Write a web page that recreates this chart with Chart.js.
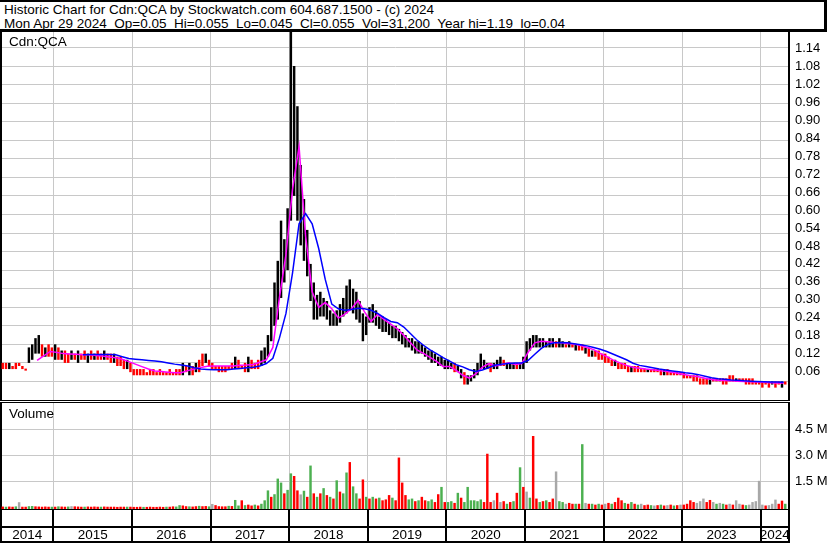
<!DOCTYPE html>
<html>
<head>
<meta charset="utf-8">
<title>Historic Chart for Cdn:QCA</title>
<script src="https://cdn.jsdelivr.net/npm/chart.js@4.4.1/dist/chart.umd.min.js"></script>
<style>
  body { margin: 0; background: #fff; }
  #page { position: relative; width: 830px; height: 543px; overflow: hidden; font-family: 'Liberation Sans', Arial, sans-serif; color: #000; }
  #head { position: absolute; left: 0; top: 0; width: 820px; height: 26px; padding: 1px 0 0 4px; border-top: 2px solid #000; border-right: 3px solid #000; border-bottom: 3px solid #000; font-size: 13.5px; line-height: 14px; white-space: pre; }
  canvas { position: absolute; left: 0; }
  .rule { position: absolute; left: 0; width: 790px; background: #000; }
  .tag { position: absolute; left: 9px; font-size: 13.5px; line-height: 15px; }
</style>
</head>
<body>
<div id="page">
  <div id="head">Historic Chart for Cdn:QCA by Stockwatch.com 604.687.1500 - (c) 2024
Mon Apr 29 2024  Op=0.05  Hi=0.055  Lo=0.045  Cl=0.055  Vol=31,200  Year hi=1.19  lo=0.04</div>
  <canvas id="priceChart" width="830" height="368" style="top:32px"></canvas>
  <div class="rule" style="top:400px;height:1px"></div>
  <div class="rule" style="top:402px;height:1px"></div>
  <canvas id="volChart" width="830" height="106" style="top:403px"></canvas>
  <div class="rule" style="top:509px;height:1px"></div>
  <canvas id="yearChart" width="830" height="33" style="top:510px"></canvas>
  <div class="rule" style="top:541px;height:2px"></div>
  <div class="tag" style="top:34px">Cdn:QCA</div>
  <div class="tag" style="top:406px">Volume</div>
</div>
<script>
// half-month bars from May 2014 to end of April 2024
const periodStart = 2014 + 4 / 12;
const XMIN = 2014.332, XMAX = 2024.36;

const priceHigh = [
  0.12,0.12,0.12,0.11,0.12,0.12,0.11,0.10,0.17,0.18,0.20,0.21,0.18,0.17,0.18,0.17, // 2014
  0.18,0.17,0.16,0.16,0.15,0.16,0.15,0.16,0.15,0.16,0.15,0.16,0.15,0.16,0.15,0.16,0.15,0.15,0.15,0.14,0.14,0.13,0.13,0.12, // 2015
  0.10,0.10,0.10,0.10,0.09,0.10,0.10,0.09,0.10,0.09,0.09,0.10,0.09,0.10,0.10,0.12,0.11,0.12,0.11,0.12,0.13,0.15,0.15,0.13, // 2016
  0.12,0.11,0.11,0.11,0.11,0.11,0.12,0.14,0.13,0.11,0.12,0.14,0.13,0.12,0.13,0.16,0.17,0.21,0.30,0.38,0.45,0.58,0.52,0.62, // 2017
  1.19,1.08,0.95,0.76,0.65,0.55,0.44,0.38,0.34,0.35,0.33,0.32,0.29,0.28,0.29,0.31,0.33,0.37,0.39,0.36,0.35,0.32,0.28,0.27, // 2018
  0.30,0.31,0.29,0.27,0.27,0.26,0.25,0.24,0.24,0.23,0.22,0.21,0.20,0.20,0.19,0.19,0.18,0.17,0.16,0.16,0.15,0.14,0.14,0.13, // 2019
  0.13,0.12,0.12,0.11,0.10,0.09,0.08,0.08,0.10,0.12,0.15,0.13,0.12,0.12,0.12,0.13,0.14,0.13,0.12,0.12,0.12,0.12,0.12,0.14, // 2020
  0.19,0.20,0.21,0.21,0.20,0.20,0.19,0.20,0.20,0.19,0.20,0.19,0.18,0.19,0.18,0.18,0.18,0.18,0.17,0.17,0.16,0.16,0.16,0.15, // 2021
  0.15,0.14,0.13,0.13,0.12,0.12,0.12,0.11,0.11,0.11,0.11,0.10,0.10,0.10,0.10,0.10,0.10,0.10,0.10,0.10,0.09,0.09,0.09,0.09, // 2022
  0.09,0.08,0.08,0.08,0.08,0.07,0.07,0.07,0.07,0.07,0.07,0.07,0.07,0.07,0.08,0.08,0.07,0.07,0.07,0.07,0.07,0.07,0.06,0.06, // 2023
  0.06,0.06,0.06,0.06,0.06,0.06,0.06,0.06 // 2024
];
const priceLow = [
  0.10,0.10,0.10,0.10,0.10,0.11,0.10,0.095,0.12,0.13,0.15,0.15,0.14,0.14,0.14,0.14,
  0.13,0.13,0.13,0.12,0.12,0.13,0.13,0.12,0.13,0.13,0.12,0.13,0.13,0.13,0.13,0.13,0.13,0.12,0.12,0.11,0.11,0.10,0.10,0.09,
  0.08,0.08,0.08,0.08,0.08,0.08,0.08,0.08,0.08,0.08,0.08,0.08,0.08,0.08,0.08,0.08,0.09,0.08,0.08,0.09,0.09,0.11,0.12,0.11,
  0.10,0.10,0.09,0.09,0.09,0.10,0.10,0.10,0.10,0.10,0.09,0.09,0.10,0.10,0.10,0.11,0.12,0.14,0.19,0.24,0.26,0.33,0.38,0.42,
  0.58,0.66,0.58,0.50,0.45,0.40,0.32,0.26,0.26,0.27,0.27,0.26,0.24,0.24,0.24,0.25,0.27,0.28,0.29,0.28,0.26,0.25,0.19,0.21,
  0.25,0.25,0.24,0.23,0.22,0.22,0.21,0.20,0.20,0.19,0.18,0.17,0.17,0.16,0.15,0.15,0.15,0.14,0.13,0.12,0.12,0.11,0.11,0.10,
  0.10,0.10,0.09,0.09,0.07,0.05,0.05,0.06,0.07,0.08,0.10,0.10,0.10,0.09,0.10,0.10,0.11,0.11,0.10,0.10,0.10,0.10,0.10,0.10,
  0.12,0.16,0.17,0.17,0.17,0.17,0.17,0.17,0.17,0.17,0.17,0.17,0.17,0.17,0.17,0.16,0.16,0.16,0.15,0.14,0.14,0.14,0.13,0.13,
  0.12,0.12,0.11,0.11,0.10,0.10,0.10,0.09,0.09,0.09,0.09,0.09,0.09,0.09,0.09,0.09,0.09,0.08,0.08,0.08,0.08,0.08,0.08,0.08,
  0.07,0.07,0.07,0.06,0.06,0.05,0.05,0.05,0.05,0.06,0.06,0.06,0.05,0.05,0.06,0.06,0.06,0.06,0.06,0.05,0.05,0.05,0.05,0.05,
  0.04,0.05,0.04,0.05,0.04,0.05,0.04,0.05
];
// k = black (up) bar, r = red (down) bar
const priceTone = [
  'rrkrrrrrkkkkrkrr',
  'krkrrkrkrrkrkrrkrrkrrrkr',
  'rrrrrrrrrrrrrrrkrkrkrrkr',
  'rrrrrrrkrrrkrrrkkkkkkkkk',
  'kkkkkkkkkkkkkkkkkkkkkkkk',
  'kkkkkkkkkkkkkkkkkkkkkkkk',
  'kkrkkrkkkkkkkrkkkrkkkrkk',
  'kkkkkkkkkrkkrkrkrrkrkrrr',
  'rrrkrrrrkrrrrkrrrrkrrrrr',
  'rrrrrrrrkrrrrrrrkrrrrrrr',
  'rrrkrrkr'
].join('');

// monthly moving averages, May 2014 .. Apr 2024
const maShort = [
  null,null,null,null,null,0.128,0.143,0.157,
  0.154,0.150,0.149,0.148,0.146,0.146,0.144,0.142,0.139,0.137,0.132,0.124,
  0.116,0.108,0.100,0.094,0.092,0.090,0.088,0.088,0.095,0.100,0.105,0.109,
  0.110,0.110,0.110,0.110,0.112,0.113,0.115,0.122,0.130,0.170,0.330,0.470,
  0.680,0.820,0.530,0.350,0.300,0.315,0.295,0.265,0.278,0.295,0.322,0.285,
  0.254,0.277,0.260,0.245,0.230,0.209,0.186,0.162,0.151,0.138,0.125,0.108,
  0.108,0.096,0.080,0.071,0.085,0.106,0.118,0.110,0.115,0.120,0.115,0.118,
  0.155,0.185,0.190,0.188,0.186,0.185,0.183,0.181,0.176,0.170,0.163,0.151,
  0.140,0.129,0.120,0.112,0.106,0.103,0.100,0.098,0.095,0.093,0.090,0.086,
  0.082,0.078,0.075,0.070,0.066,0.064,0.063,0.062,0.061,0.060,0.059,0.058,
  0.057,0.056,0.055,0.055
];
const maLong = [
  null,null,null,null,null,null,null,null,
  null,null,null,null,0.146,0.147,0.147,0.147,0.147,0.146,0.140,0.134,
  0.132,0.130,0.128,0.126,0.124,0.120,0.116,0.113,0.110,0.104,0.100,0.099,
  0.098,0.098,0.098,0.100,0.102,0.104,0.106,0.110,0.118,0.135,0.200,0.280,
  0.410,0.570,0.603,0.570,0.490,0.390,0.310,0.295,0.290,0.293,0.297,0.295,
  0.290,0.280,0.266,0.254,0.250,0.236,0.215,0.194,0.177,0.162,0.150,0.137,
  0.126,0.114,0.107,0.098,0.092,0.097,0.105,0.113,0.116,0.118,0.120,0.120,
  0.128,0.148,0.167,0.180,0.185,0.186,0.185,0.182,0.179,0.175,0.170,0.164,
  0.157,0.148,0.139,0.130,0.119,0.112,0.108,0.104,0.100,0.097,0.094,0.091,
  0.088,0.086,0.082,0.077,0.072,0.069,0.067,0.065,0.064,0.062,0.061,0.060,
  0.059,0.058,0.058,0.057
];

// volume in millions, same half-month periods
const volume = [
  0.04,0.03,0.04,0.03,0.05,0.29,0.03,0.03,0.06,0.07,0.05,0.04,0.03,0.04,0.03,0.03,
  0.03,0.05,0.04,0.03,0.04,0.06,0.05,0.04,0.03,0.03,0.04,0.03,0.04,0.03,0.03,0.04,0.03,0.03,0.03,0.02,0.03,0.03,0.03,0.03,
  0.02,0.02,0.03,0.02,0.02,0.03,0.02,0.02,0.03,0.02,0.03,0.03,0.05,0.04,0.12,0.10,0.06,0.05,0.04,0.06,0.08,0.06,0.07,0.05,
  0.19,0.12,0.06,0.05,0.05,0.08,0.07,0.42,0.10,0.40,0.12,0.15,0.10,0.15,0.10,0.20,0.40,0.97,0.60,0.75,1.65,1.42,0.80,1.00,
  1.95,1.80,0.97,0.74,0.95,0.60,2.40,0.80,0.60,0.80,1.10,0.70,0.60,0.50,1.55,0.90,0.80,2.00,2.60,1.20,0.80,0.50,1.60,0.60,
  0.50,0.60,0.50,0.55,0.40,0.45,0.70,0.55,0.40,2.86,1.42,0.70,0.45,0.50,0.35,0.40,0.60,0.40,0.35,0.45,0.30,0.75,1.17,0.30,
  0.30,0.35,0.25,0.83,0.55,0.30,1.17,0.40,0.40,0.35,0.45,0.30,3.08,0.30,0.40,0.83,0.30,0.35,0.20,0.30,0.35,0.83,2.30,1.17,
  0.90,0.55,4.10,0.50,0.30,0.35,0.40,0.30,0.50,2.06,0.35,0.30,0.20,0.25,0.20,0.20,0.20,3.63,0.25,0.20,0.20,0.15,0.20,0.15,
  0.20,0.25,0.20,0.30,0.55,0.40,0.25,0.20,0.30,0.20,0.15,0.20,0.12,0.15,0.12,0.10,0.12,0.15,0.10,0.12,0.15,0.10,0.12,0.15,
  0.15,0.20,0.40,0.30,0.25,0.35,0.50,0.30,0.42,0.30,0.20,0.25,0.20,0.15,0.20,0.15,0.40,0.20,0.15,0.12,0.15,0.30,0.35,1.52,
  0.15,0.10,0.12,0.20,0.44,0.20,0.38,0.20
];
// g = up, r = down, n = unchanged
const volumeTone = [
  'rgrrgnrrggrrrrrg',
  'rgrrgnrrrgrrrrgrrrrrrrgr',
  'rrrgrrrrrrgrrggrrgrrgrrg',
  'nrrrrgrggrgrrgrgggrgggrg',
  'grrngrgrgrgrgrgrggrggrrg',
  'rgrgrrrgrrrrggrgrrggrrgr',
  'ggrgrggggggrrrnrnrgrgrgr',
  'ngrrgrgrrnggnrrgrgnrgrgr',
  'nrgrrrgrgrgnrrgnrgrnrgrn',
  'rrrrnnnrrngngrnrnnrgnnnn',
  'nrnnnrrg'
].join('');

const priceTicks = [0.06,0.12,0.18,0.24,0.30,0.36,0.42,0.48,0.54,0.60,0.66,0.72,0.78,0.84,0.90,0.96,1.02,1.08,1.14];
const volTicks = [1.5, 3.0, 4.5];
const volTickText = ['1.5 M', '3.0 M', '4.5 M'];
const yearLabels = ['2014','2015','2016','2017','2018','2019','2020','2021','2022','2023','2024'];
const yearBounds = [2015,2016,2017,2018,2019,2020,2021,2022,2023,2024];

const GRID = '#c8c8c8';
const VMIN = -0.1, VMAX = 6.0;

Chart.defaults.font.family = "'Liberation Sans', Arial, sans-serif";
Chart.defaults.font.size = 13;
Chart.defaults.color = '#000';

const periodX = i => periodStart + (i + 0.5) / 24;
const monthX = m => periodStart + (m + 0.5) / 12;

const fixWidth = w => s => { s.width = w; s.paddingTop = 0; s.paddingBottom = 0; };
const fixHeight = h => s => { s.height = h; s.paddingLeft = 0; s.paddingRight = 0; };
const setTicks = vals => s => { s.ticks = vals.map(v => ({ value: v })); };

const common = {
  responsive: false,
  animation: false,
  devicePixelRatio: 1,
  layout: { padding: 0, autoPadding: false },
  plugins: { legend: { display: false }, tooltip: { enabled: false } }
};

const timeAxis = {
  type: 'linear', min: XMIN, max: XMAX, offset: false,
  afterBuildTicks: setTicks(yearBounds),
  afterFit: fixHeight(0),
  ticks: { display: false, autoSkip: false },
  grid: { color: GRID, drawTicks: false, offset: false },
  border: { display: false }
};

// price panel
new Chart(document.getElementById('priceChart'), {
  type: 'bar',
  data: {
    datasets: [
      {
        type: 'line', order: 0,
        data: maLong.map((v, m) => ({ x: monthX(m), y: v })),
        borderColor: '#0000ff', borderWidth: 1.5, pointRadius: 0, tension: 0
      },
      {
        type: 'line', order: 1,
        data: maShort.map((v, m) => ({ x: monthX(m), y: v })),
        borderColor: '#ff00ff', borderWidth: 1.5, pointRadius: 0, tension: 0
      },
      {
        type: 'bar', order: 2,
        data: priceHigh.map((h, i) => ({ x: periodX(i), y: [priceLow[i], h] })),
        backgroundColor: priceTone.split('').map(t => t === 'k' ? '#000000' : '#ff0000'),
        categoryPercentage: 1, barPercentage: 0.75, minBarLength: 2
      }
    ]
  },
  options: {
    ...common,
    scales: {
      x: timeAxis,
      y: {
        position: 'left', min: 0, max: 1.19,
        afterBuildTicks: setTicks(priceTicks), afterFit: fixWidth(1),
        ticks: { display: false },
        grid: { color: GRID, drawTicks: false },
        border: { color: '#000', width: 2 }
      },
      yLabel: {
        position: 'right', min: -0.0345, max: 1.1944,
        afterBuildTicks: setTicks(priceTicks), afterFit: fixWidth(41),
        ticks: { padding: 6, callback: v => v.toFixed(2) },
        grid: { display: false, drawTicks: false },
        border: { color: '#000', width: 2 }
      }
    }
  }
});

// volume panel
const volColors = { g: '#4cb050', r: '#ff0000', n: '#a8a8a8' };
new Chart(document.getElementById('volChart'), {
  type: 'bar',
  data: {
    datasets: [{
      data: volume.map((v, i) => ({ x: periodX(i), y: v })),
      backgroundColor: volumeTone.split('').map(t => volColors[t]),
      base: VMIN,
      categoryPercentage: 1, barPercentage: 0.75
    }]
  },
  options: {
    ...common,
    scales: {
      x: timeAxis,
      y: {
        position: 'left', min: VMIN, max: VMAX,
        afterBuildTicks: setTicks(volTicks), afterFit: fixWidth(1),
        ticks: { display: false },
        grid: { color: GRID, drawTicks: false },
        border: { color: '#000', width: 2 }
      },
      yLabel: {
        position: 'right', min: VMIN, max: VMAX,
        afterBuildTicks: setTicks(volTicks), afterFit: fixWidth(41),
        ticks: { padding: 6, callback: (v, i) => volTickText[i] },
        grid: { display: false, drawTicks: false },
        border: { color: '#000', width: 2 }
      }
    }
  }
});

// year strip
const stripBounds = [XMIN, ...yearBounds, XMAX];
const isBound = v => stripBounds.some(b => Math.abs(b - v) < 1e-6);
new Chart(document.getElementById('yearChart'), {
  type: 'bar',
  data: { datasets: [] },
  options: {
    ...common,
    layout: { padding: { left: 1, right: 41, top: 0, bottom: 0 }, autoPadding: false },
    scales: {
      x: {
        type: 'linear', min: XMIN, max: XMAX, offset: false,
        afterBuildTicks: s => {
          const t = stripBounds.map(v => ({ value: v, year: '' }));
          yearLabels.forEach(y => {
            const a = Math.max(+y, XMIN), b = Math.min(+y + 1, XMAX);
            t.push({ value: (a + b) / 2, year: y });
          });
          s.ticks = t.sort((p, q) => p.value - q.value);
        },
        afterFit: fixHeight(16),
        ticks: { autoSkip: false, maxRotation: 0, padding: -16, font: { size: 13.5 }, callback: (v, i, t) => t[i].year },
        grid: {
          color: c => (c.tick && isBound(c.tick.value)) ? '#000' : 'rgba(0,0,0,0)',
          lineWidth: 2, tickLength: 16, offset: false
        },
        border: { display: false }
      },
      y: {
        min: 0, max: 1,
        afterBuildTicks: setTicks([0]), afterFit: fixWidth(0),
        ticks: { display: false },
        grid: { color: '#000', lineWidth: 2, drawTicks: false },
        border: { display: false }
      }
    }
  }
});
</script>
</body>
</html>
